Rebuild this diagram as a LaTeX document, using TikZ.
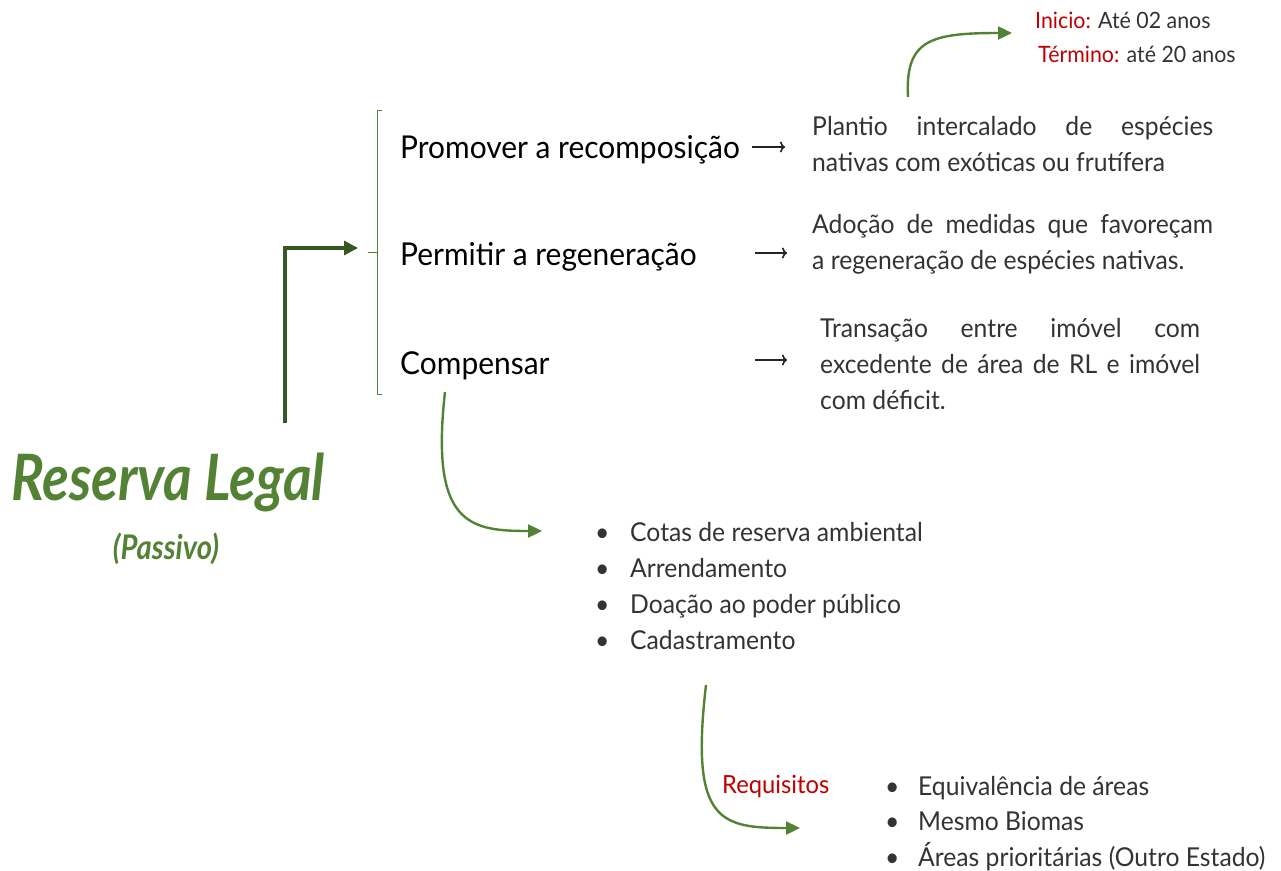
\documentclass[tikz,border=0pt]{standalone}
\usepackage{fontspec}
\setmainfont{Lato}[FakeStretch=0.95]
\newfontfamily\titlefont{Lato}[FakeStretch=0.86]
\usetikzlibrary{arrows.meta}
\definecolor{lgreen}{HTML}{548235}
\definecolor{dgreen}{HTML}{385723}
\definecolor{tred}{HTML}{C00000}
\definecolor{tgray}{HTML}{333333}
\tikzset{
  item/.style={anchor=base west, inner sep=0pt, font=\fontsize{31.5}{38}\selectfont, text=black},
  para/.style={anchor=base west, inner sep=0pt, align=justify, font=\fontsize{26}{36}\selectfont, text=tgray},
  bul/.style={anchor=base west, inner sep=0pt, font=\fontsize{26}{36}\selectfont, text=tgray},
  small/.style={anchor=base west, inner sep=0pt, font=\fontsize{22.5}{26}\selectfont, text=tgray},
  curvearrow/.style={draw=lgreen, line width=2.4pt, -{Triangle[length=14pt,width=13pt]}},
  textarrow/.style={draw=black!85, line width=1.6pt, -{To[length=5pt,width=11pt,line width=1.6pt]}},
}
\begin{document}
\begin{tikzpicture}[x=1pt,y=-1pt]
\useasboundingbox (0,0) rectangle (1281,870);
% title
\node[anchor=base, inner sep=0pt, text=lgreen, font=\titlefont\bfseries\itshape\fontsize{64}{70}\selectfont] (rl) at (168,500) {Reserva Legal};
\node[anchor=base, inner sep=0pt, text=lgreen, font=\titlefont\bfseries\itshape\fontsize{34}{38}\selectfont] (pas) at (166,559) {(Passivo)};
% bracket
\coordinate (btop) at (382,110);
\coordinate (bbot) at (382,394);
\coordinate (bmid) at (368,252);
\draw[lgreen, line width=1pt] (btop) -- (377,110) -- (377,394) -- (bbot);
\draw[lgreen, line width=1pt] (bmid) -- (377,252);
% main arrow
\coordinate (rlstart) at (285,423);
\coordinate (arrend) at (358,248);
\draw[dgreen, line width=3.2pt, -{Triangle[length=14pt,width=14pt]}] (rlstart) |- (arrend);
% items
\node[item] (p1) at (400,158) {Promover a recomposição};
\node[item] (p2) at (400,265) {Permitir a regeneração};
\node[item] (p3) at (400,374) {Compensar};
\coordinate (a1s) at (752,147); \coordinate (a1e) at (785,147);
\coordinate (a2s) at (755,253); \coordinate (a2e) at (787,253);
\coordinate (a3s) at (755,360); \coordinate (a3e) at (787,360);
\draw[textarrow] (a1s) -- (a1e);
\draw[textarrow] (a2s) -- (a2e);
\draw[textarrow] (a3s) -- (a3e);
% paragraphs
\node[para, text width=401pt] (d1) at (812,135) {Plantio intercalado de espécies\linebreak nativas com exóticas ou frutífera};
\node[para, text width=401pt] (d2) at (812,233) {Adoção de medidas que favoreçam\linebreak a regeneração de espécies nativas.};
\node[para, text width=380pt] (d3) at (820,337) {Transação entre imóvel com\linebreak excedente de área de RL e imóvel\linebreak com déficit.};
% top labels
\node[small] (ini) at (1035,28) {\textcolor{tred}{Inicio:} Até 02 anos};
\node[small] (ter) at (1038,62) {\textcolor{tred}{Término:} até 20 anos};
\coordinate (c1s) at (908,97);
\coordinate (c1e) at (1012,33);
\draw[curvearrow] (c1s) .. controls (905,40) and (930,33) .. (c1e);
% compensar curve
\coordinate (c2s) at (445,392);
\coordinate (c2e) at (542,531);
\draw[curvearrow] (c2s) .. controls (430,525) and (470,531) .. (c2e);
% list 1
\node[bul] (b1) at (595,541) {\textbullet};
\node[bul] (l1) at (630,541) {Cotas de reserva ambiental};
\node[bul] (b2) at (595,577) {\textbullet};
\node[bul] (l2) at (630,577) {Arrendamento};
\node[bul] (b3) at (595,613) {\textbullet};
\node[bul] (l3) at (630,613) {Doação ao poder público};
\node[bul] (b4) at (595,649) {\textbullet};
\node[bul] (l4) at (630,649) {Cadastramento};
% requisitos curve
\coordinate (c3s) at (706,685);
\coordinate (c3e) at (800,828);
\draw[curvearrow] (c3s) .. controls (690,822) and (720,828) .. (c3e);
\node[anchor=base west, inner sep=0pt, text=tred, font=\fontsize{25}{28}\selectfont] (req) at (722,793) {Requisitos};
% list 2
\node[bul] (r1b) at (885,795) {\textbullet};
\node[bul] (r1) at (918,795) {Equivalência de áreas};
\node[bul] (r2b) at (885,830) {\textbullet};
\node[bul] (r2) at (918,830) {Mesmo Biomas};
\node[bul] (r3b) at (885,866) {\textbullet};
\node[bul] (r3) at (918,866) {Áreas prioritárias (Outro Estado)};
\end{tikzpicture}
\end{document}
